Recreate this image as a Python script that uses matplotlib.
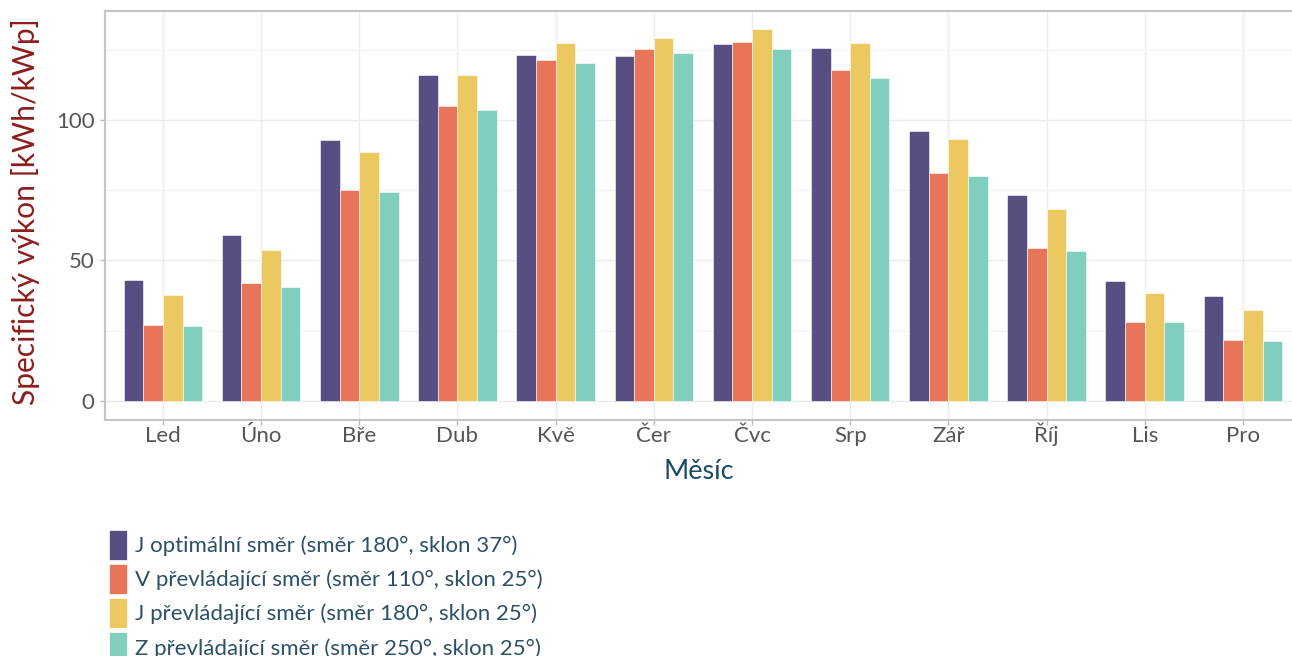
import numpy as np
import matplotlib
matplotlib.use('Agg')
import matplotlib.pyplot as plt
from matplotlib.patches import Patch

plt.rcParams['font.family'] = ['Lato', 'DejaVu Sans']

months = ['Led', 'Úno', 'Bře', 'Dub', 'Kvě', 'Čer', 'Čvc', 'Srp', 'Zář', 'Říj', 'Lis', 'Pro']

j_opt = [43.1, 59.0, 92.9, 116.1, 123.1, 122.7, 127.0, 125.7, 96.0, 73.2, 42.7, 37.4]
v_prev = [26.9, 41.9, 75.2, 105.0, 121.2, 125.4, 127.8, 117.7, 81.0, 54.3, 28.0, 21.8]
j_prev = [37.7, 53.6, 88.7, 116.1, 127.3, 129.2, 132.4, 127.3, 93.3, 68.2, 38.4, 32.3]
z_prev = [26.6, 40.5, 74.4, 103.4, 120.4, 123.8, 125.4, 114.9, 80.2, 53.3, 28.0, 21.5]

series = [j_opt, v_prev, j_prev, z_prev]
labels = ['J optimální směr (směr 180°, sklon 37°)',
          'V převládající směr (směr 110°, sklon 25°)',
          'J převládající směr (směr 180°, sklon 25°)',
          'Z převládající směr (směr 250°, sklon 25°)']
colors = ['#584E82', '#E8755A', '#ECC960', '#80CFBE']

fig = plt.figure(figsize=(12.92, 6.56), dpi=100)
ax = fig.add_axes([105 / 1292, 1 - 420 / 656, 1 - 105 / 1292, (420 - 11) / 656])

x = np.arange(len(months))
w = 0.2
for k, (vals, col) in enumerate(zip(series, colors)):
    ax.bar(x + (k - 1.5) * w, vals, width=w, color=col, edgecolor='white',
           linewidth=0.4, zorder=3)

ax.set_xlim(-0.59, 11.5)
ax.set_ylim(-6.8, 138.8)
ax.set_xticks(x)
ax.set_xticklabels(months)
ax.set_yticks([0, 50, 100])
ax.set_yticks([25, 75, 125], minor=True)
ax.tick_params(axis='both', which='major', labelsize=16, colors='#555555',
               length=3.6, width=1, color='#bbbbbb')
ax.tick_params(axis='y', which='major', pad=4)
ax.tick_params(axis='x', which='major', pad=12.2)
for lab in ax.get_xticklabels():
    lab.set_verticalalignment('baseline')
ax.tick_params(axis='y', which='minor', length=0)

ax.grid(True, which='major', color='#ebebeb', linewidth=1, zorder=0)
ax.grid(True, which='minor', axis='y', color='#f4f4f4', linewidth=1, zorder=0)

for s in ['left', 'bottom', 'top']:
    ax.spines[s].set_color('#c4c4c4')
    ax.spines[s].set_linewidth(1.5)
ax.spines['right'].set_visible(False)

ax.set_xlabel('Měsíc', fontsize=19.5, color='#1B4A66', va='baseline')
ax.xaxis.set_label_coords(0.5, (420 - 479) / 409)
ax.set_ylabel('Specifický výkon [kWh/kWp]', fontsize=21.6, color='#8C1D1D')
ax.yaxis.set_label_coords(-0.055, 0.51)

handles = [Patch(facecolor=c, edgecolor='white', linewidth=0.5) for c in colors]
fig.legend(handles, labels, loc='upper left',
           bbox_to_anchor=(109 / 1292, 1 - 530 / 656),
           frameon=False, fontsize=16, labelcolor='#2B5068',
           handlelength=0.8, handleheight=1.68, labelspacing=0.2,
           handletextpad=0.35, borderpad=0, borderaxespad=0)

fig.savefig('out.png', dpi=100)
